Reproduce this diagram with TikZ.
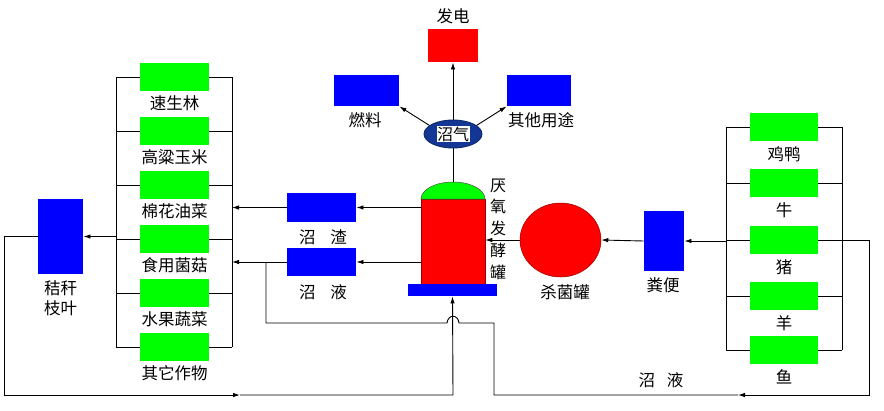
\documentclass[tikz,border=0pt]{standalone}
\usepackage{fontspec}
\newfontfamily\cjk{Noto Sans CJK SC}
\usepackage{tikz}
\usetikzlibrary{
        arrows.meta,
        shapes.geometric,
        positioning
    }
\definecolor{padgreen}{RGB}{0,255,0}
\definecolor{padblue}{RGB}{0,0,255}
\definecolor{padred}{RGB}{255,0,0}
\definecolor{darkred}{RGB}{150,0,0}
\definecolor{gasblue}{RGB}{20,55,150}
\tikzset{>={Latex[length=7pt,width=4.5pt]},auto}
\tikzset{crop box/.style={fill=padgreen,minimum width=69pt,minimum height=28pt,inner sep=0pt}}
\tikzset{blue box/.style={fill=padblue,inner sep=0pt}}
\tikzset{red box/.style={fill=padred,inner sep=0pt}}
\tikzset{caption/.style={inner sep=0pt,text=black}}

\begin{document}
\begin{tikzpicture}[x=1pt,y=-1pt,line width=0.9pt,font=\cjk\fontsize{16.5}{20}\selectfont]
            \useasboundingbox (0,0) rectangle (884,410);
            \coordinate (lbus) at (116,0);
            \coordinate (rbus) at (232,0);
            \coordinate (hbus) at (726,0);
            \coordinate (jbus) at (842,0);

            \foreach \n/\y/\t in {1/77/速生林,2/131/高粱玉米,3/185/棉花油菜,4/239/食用菌菇,5/293/水果蔬菜,6/347/其它作物}{
                \node[crop box] (c\n) at (174.5,\y) {};
                \node[caption] (ct\n) at (174.5,\y+26) {\t};
                \draw (c\n.west) -- (c\n.west -| lbus) (c\n.east) -- (c\n.east -| rbus);
            }
            \draw (lbus |- c1.west) -- (lbus |- c6.west);
            \draw (rbus |- c1.east) -- (rbus |- c6.east);

            \foreach \n/\y/\t in {1/127/鸡鸭,2/183/牛,3/240/猪,4/296/羊,5/350/鱼}{
                \node[crop box,minimum width=68pt] (a\n) at (784,\y) {};
                \node[caption] (at\n) at (784,\y+27) {\t};
                \draw (a\n.west) -- (a\n.west -| hbus) (a\n.east) -- (a\n.east -| jbus);
            }
            \draw (hbus |- a1.west) -- (hbus |- a5.west);
            \draw (jbus |- a1.east) -- (jbus |- a5.east);

            \node[blue box,minimum width=45pt,minimum height=75pt] (jg) at (60.5,236.5) {};
            \node[caption,align=center] (jgt) at (60.5,298) {秸秆\\枝叶};

            \node[red box,draw=darkred,line width=0.5pt,minimum width=64pt,minimum height=85pt] (fj) at (453,241.5) {};
            \coordinate (top) at (453,182);
            \draw[fill=padgreen,draw=black!70,line width=0.5pt] (421,199) .. controls (421,189.6) and (435.3,182) .. (top)
                .. controls (470.7,182) and (485,189.6) .. (485,199) -- cycle;
            \node[blue box,minimum width=89pt,minimum height=12pt] (db) at (452.5,290) {};
            \node[caption,align=center,font=\cjk\fontsize{16}{21.7}\selectfont] (fjt) at (498,229) {厌\\氧\\发\\酵\\罐};

            \node[ellipse,fill=gasblue,draw=gasblue!70!black,minimum width=58pt,minimum height=28pt,inner sep=0pt] (zq) at (453,134) {};
            \node[fill=white,inner sep=0.5pt,font=\cjk\fontsize{16}{18}\selectfont] (zqt) at (zq) {沼气};

            \node[red box,minimum width=50pt,minimum height=33pt] (fd) at (453,45.5) {};
            \node[caption] (fdt) at (453,16) {发电};
            \node[blue box,minimum width=65pt,minimum height=31pt] (rl) at (366.5,90.5) {};
            \node[caption] (rlt) at (365,120) {燃料};
            \node[blue box,minimum width=64pt,minimum height=31pt] (qt) at (539,90.5) {};
            \node[caption] (qtt) at (541,120) {其他用途};

            \node[blue box,minimum width=69pt,minimum height=29pt] (zz) at (321.5,207.5) {};
            \node[caption] (zzt) at (323,237) {沼\hspace{0.9em}渣};
            \node[blue box,minimum width=69pt,minimum height=28pt] (zy) at (321.5,262) {};
            \node[caption] (zyt) at (323,292) {沼\hspace{0.9em}液};

            \node[ellipse,fill=padred,draw=darkred,line width=0.5pt,minimum width=81pt,minimum height=74pt,inner sep=0pt] (sj) at (560.5,240) {};
            \node[caption] (sjt) at (565,292) {杀菌罐};
            \node[blue box,minimum width=40pt,minimum height=60pt] (fb) at (664,241) {};
            \node[caption] (fbt) at (663,285) {粪便};
            \node[caption] (hyt) at (661,380) {沼\hspace{0.7em}液};

            \draw (top) -- (zq.south);
            \draw[->] (zq.north) -- (fd.south);
            \draw[->] (zq.160) -- (rl.south east);
            \draw[->] (zq.20) -- (qt.south west);

            \draw[->] (zz.east -| fj.west) -- (zz.east);
            \draw[->] (zy.east -| fj.west) -- (zy.east);
            \draw[->] (zz.west) -- (zz.west -| rbus);
            \draw[->] (zy.west) -- (zy.west -| rbus);
            \draw[->] (jg.east -| lbus) -- (jg.east);
            \draw[->] (sj.west) -- (sj.west -| fj.east);
            \draw[->] (fb.west) -- (sj.east);
            \draw[->] (hbus |- fb.east) -- (fb.east);

            \draw[->] (jg.west) -| (4,395) -- (240,395);
            \draw[->] (240,395) -- (453,395) -- (db.south);
            \draw[->] (a3.east) -- (869,240) -- (869,395) -- (738,395);
            \draw (738,395) -- (494,395) -- (494,323) -- (459,323) .. controls (458,314) and (448,314) .. (447,323)
                -- (266,323) -- (266,262);
        \end{tikzpicture}
\end{document}
